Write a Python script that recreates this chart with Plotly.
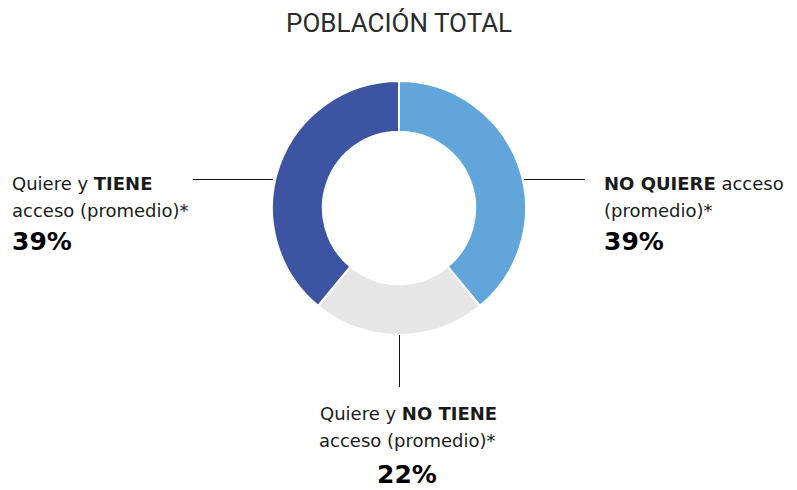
import plotly.graph_objects as go

W, H = 797, 490
OFF = 8  # browser body margin

categories = ["NO QUIERE acceso (promedio)*", "Quiere y NO TIENE acceso (promedio)*", "Quiere y TIENE acceso (promedio)*"]
values = [39, 22, 39]
colors = ["#62a5da", "#e6e6e6", "#3d54a2"]


def px(x):
    return (x - OFF) / W


def py(y):
    return 1 - (y - OFF) / H


fig = go.Figure()
fig.add_trace(go.Pie(
    labels=categories, values=values, sort=False, direction="clockwise", rotation=0,
    hole=0.6, marker=dict(colors=colors, line=dict(color="white", width=2)),
    textinfo="none", hoverinfo="label+percent", showlegend=False,
    domain=dict(x=[px(272), px(526)], y=[py(335), py(81)]),
))

REG = "DejaVu Sans"
TXT = "#1a1a1a"
ann = []


def add(x, y, text, size, anchor, color=TXT, fam=REG):
    ann.append(dict(x=px(x), y=py(y), xref="paper", yref="paper", text=text, showarrow=False,
                    xanchor=anchor, yanchor="middle",
                    font=dict(family=fam, size=size, color=color)))


add(399, 23, "POBLACIÓN TOTAL", 26, "center", color="#2b2b2b", fam="Roboto")

# left (Quiere y TIENE)
add(10, 183, "Quiere y <b>TIENE</b>", 18, "left")
add(10, 210, "acceso (promedio)*", 18, "left")
add(10, 242, f"<b>{values[2]}%</b>", 25, "left", color="#000")

# right (NO QUIERE)
add(602, 183, "<b>NO QUIERE</b> acceso", 18, "left")
add(602, 210, "(promedio)*", 18, "left")
add(602, 242, f"<b>{values[0]}%</b>", 25, "left", color="#000")

# bottom (Quiere y NO TIENE)
add(408, 413, "Quiere y <b>NO TIENE</b>", 18, "center")
add(407, 440, "acceso (promedio)*", 18, "center")
add(407, 474, f"<b>{values[1]}%</b>", 25, "center", color="#000")

LC = "#111111"
shapes = [
    dict(type="line", xref="paper", yref="paper", x0=px(193), x1=px(273), y0=py(179.5), y1=py(179.5),
         line=dict(color=LC, width=1)),
    dict(type="line", xref="paper", yref="paper", x0=px(524), x1=px(585), y0=py(179.5), y1=py(179.5),
         line=dict(color=LC, width=1)),
    dict(type="line", xref="paper", yref="paper", x0=px(399.5), x1=px(399.5), y0=py(335), y1=py(387),
         line=dict(color=LC, width=1)),
]

fig.update_layout(
    width=W, height=H, margin=dict(l=0, r=0, t=0, b=0),
    paper_bgcolor="white", plot_bgcolor="white",
    annotations=ann, shapes=shapes,
)

fig.write_html("out.html")
